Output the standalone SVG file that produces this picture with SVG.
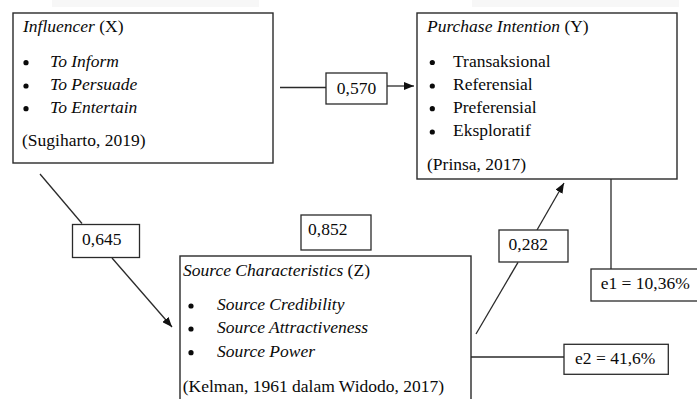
<svg xmlns="http://www.w3.org/2000/svg" width="697" height="399" viewBox="0 0 697 399">
<style>
  .box { fill: #ffffff; stroke: #2a2a2a; stroke-width: 1.4; }
  .lbl { fill: #ffffff; stroke: #2a2a2a; stroke-width: 1.3; }
  .conn { stroke: #2a2a2a; stroke-width: 1.3; fill: none; }
  text { font-family: "Liberation Serif", "Times New Roman", serif; font-size: 17.5px; fill: #0a0a0a; }
  .it { font-style: italic; }
  .dot { fill: #0a0a0a; }
</style>
<defs>
  <marker id="arr" viewBox="0 0 10 8" refX="10" refY="4" markerWidth="10" markerHeight="8" markerUnits="userSpaceOnUse" orient="auto">
    <path d="M0,0 L10,4 L0,8 Z" fill="#111"/>
  </marker>
</defs>
<rect x="52" y="0" width="207" height="7" fill="#f7f7f7"/>
<rect x="472" y="0" width="207" height="7" fill="#f7f7f7"/>

<g id="connectors">
  <line class="conn" x1="280" y1="87.5" x2="326" y2="87.5"/>
  <line class="conn" x1="387" y1="86" x2="414" y2="86" marker-end="url(#arr)"/>
  <line class="conn" x1="40" y1="174" x2="82" y2="223.5"/>
  <line class="conn" x1="112" y1="258" x2="172" y2="327" marker-end="url(#arr)"/>
  <line class="conn" x1="476" y1="334" x2="518" y2="262.3"/>
  <line class="conn" x1="537" y1="230" x2="564" y2="183" marker-end="url(#arr)"/>
  <line class="conn" x1="611" y1="179" x2="611" y2="269"/>
  <line class="conn" x1="471" y1="357" x2="564" y2="357"/>
  <g id="label-0570">
    <rect class="lbl" x="326" y="73" width="61" height="31"/>
    <text x="356.5" y="94" text-anchor="middle">0,570</text>
  </g>
  <g id="label-0645">
    <rect class="lbl" x="72.5" y="224.5" width="67" height="33"/>
    <text x="82" y="245">0,645</text>
  </g>
  <g id="label-0282">
    <rect class="lbl" x="499" y="230" width="69" height="32"/>
    <text x="508.5" y="250">0,282</text>
  </g>
</g>

<g id="node-x">
  <rect class="box" x="13" y="13" width="260" height="150"/>
  <text x="23" y="32"><tspan class="it">Influencer</tspan> (X)</text>
  <circle class="dot" cx="26" cy="62.7" r="2.6"/>
  <circle class="dot" cx="26" cy="86" r="2.6"/>
  <circle class="dot" cx="26" cy="108.7" r="2.6"/>
  <text class="it" x="50" y="66.7">To Inform</text>
  <text class="it" x="50" y="90">To Persuade</text>
  <text class="it" x="50" y="112.7">To Entertain</text>
  <text x="22" y="146">(Sugiharto, 2019)</text>
</g>

<g id="node-y">
  <rect class="box" x="417" y="13" width="260" height="166"/>
  <text x="427" y="32.3"><tspan class="it">Purchase Intention</tspan> (Y)</text>
  <circle class="dot" cx="432.3" cy="62.5" r="2.6"/>
  <circle class="dot" cx="432.3" cy="86" r="2.6"/>
  <circle class="dot" cx="432.3" cy="108.7" r="2.6"/>
  <circle class="dot" cx="432.3" cy="132" r="2.6"/>
  <text x="453" y="66.7">Transaksional</text>
  <text x="453" y="90">Referensial</text>
  <text x="453" y="112.7">Preferensial</text>
  <text x="453" y="136">Eksploratif</text>
  <text x="427" y="170">(Prinsa, 2017)</text>
</g>

<g id="node-z">
  <rect class="box" x="180" y="256" width="291" height="150"/>
  <text x="183" y="276"><tspan class="it">Source Characteristics</tspan> (Z)</text>
  <circle class="dot" cx="191" cy="306" r="2.6"/>
  <circle class="dot" cx="191" cy="329" r="2.6"/>
  <circle class="dot" cx="191" cy="352.7" r="2.6"/>
  <text class="it" x="217" y="310">Source Credibility</text>
  <text class="it" x="217" y="333">Source Attractiveness</text>
  <text class="it" x="217" y="356.7">Source Power</text>
  <text x="182.7" y="391.7">(Kelman, 1961 dalam Widodo, 2017)</text>
</g>

<g id="node-r2">
  <rect class="lbl" x="301" y="215" width="70" height="35"/>
  <text x="308" y="235">0,852</text>
</g>

<g id="node-e1">
  <rect class="lbl" x="591" y="269" width="115" height="32"/>
  <text x="600.7" y="289">e1 = 10,36%</text>
</g>

<g id="node-e2">
  <rect class="lbl" x="564" y="344.3" width="104.3" height="30"/>
  <text x="575" y="364.3">e2 = 41,6%</text>
</g>
</svg>
